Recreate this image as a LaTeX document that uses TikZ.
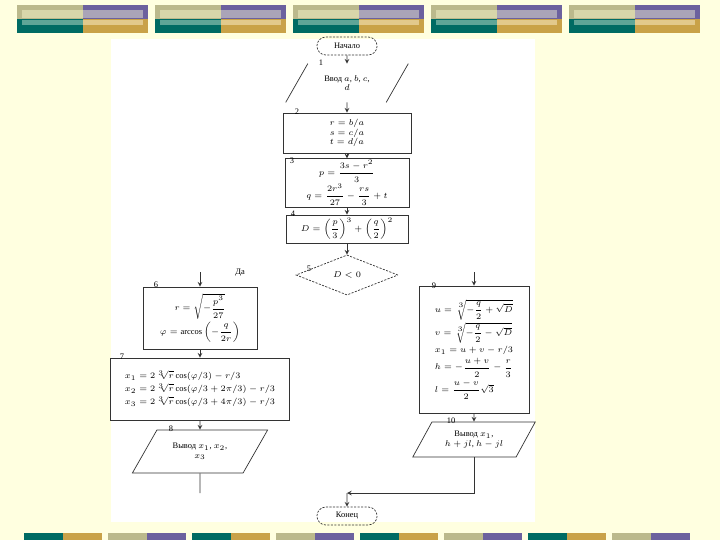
\documentclass[tikz,border=0pt]{standalone}
\usepackage{fontspec}
\setmainfont{Liberation Serif}
\usepackage{amsmath}
\usepackage{xcolor}
\usepackage{tikz}
\usetikzlibrary{shapes.geometric,shapes.misc}

\definecolor{bgyel}{HTML}{FFFFE0}
\definecolor{khaki}{HTML}{BBB98C}
\definecolor{khakil}{HTML}{D8D6AA}
\definecolor{purp}{HTML}{6C619E}
\definecolor{purpl}{HTML}{AAA4B8}
\definecolor{tealb}{HTML}{006B63}
\definecolor{teall}{HTML}{5FA597}
\definecolor{goldb}{HTML}{C9A248}
\definecolor{goldl}{HTML}{E2C98C}
\newcommand\flowfont{\fontsize{6}{6.8}\selectfont}
\newcommand\cbrt[1]{\sqrt[\leftroot{-1}\uproot{3}3]{#1}}
\newcommand\cbrtr{\;{}^{3}\!\!\sqrt{\vphantom{b}r}}

\begin{document}
\begin{tikzpicture}[
  x=0.025cm, y=-0.025cm,
  ln/.style={draw=black!80, line width=0.5pt},
  arr/.style={ln, -stealth},
  box/.style={draw=black!80, line width=0.5pt, font=\flowfont,
              align=center, inner sep=1pt},
  term/.style={box, rounded rectangle, dash pattern=on 1.5pt off 1pt,
               minimum width=1.575cm, minimum height=0.45cm},
  proc/.style={box, rectangle},
  io/.style={box, trapezium, trapezium stretches=true},
  dec/.style={box, diamond, dash pattern=on 1.5pt off 1pt},
  num/.style={font=\flowfont, inner sep=0pt},
]
% --- slide background ---
\fill[bgyel] (0,0) rectangle (720,540);
\useasboundingbox (0,0) rectangle (720,540);
\fill[white] (111,39) rectangle (535,522);
% --- top bars ---
\foreach \bx in {17,155,293,431,569} {
  \fill[khaki] (\bx,5) rectangle ++(66,14);
  \fill[purp] (\bx+66,5) rectangle ++(65,14);
  \fill[tealb] (\bx,19) rectangle ++(66,14);
  \fill[goldb] (\bx+66,19) rectangle ++(65,14);
  \fill[khakil] (\bx+5,10) rectangle ++(61,8);
  \fill[purpl] (\bx+66,10) rectangle ++(60,8);
  \fill[teall] (\bx+5,20) rectangle ++(61,5);
  \fill[goldl] (\bx+66,20) rectangle ++(60,5);
}
% --- bottom bars ---
\foreach \i/\ca/\cb in {0/tealb/goldb,1/khaki/purp,2/tealb/goldb,3/khaki/purp,
                        4/tealb/goldb,5/khaki/purp,6/tealb/goldb,7/khaki/purp} {
  \fill[\ca] (24+84*\i,533) rectangle ++(39,7);
  \fill[\cb] (63+84*\i,533) rectangle ++(39,7);
}
% --- main column ---
\node[term] (nach) at (347,46) {Начало};
\node[io, draw=none, trapezium left angle=53.6, trapezium right angle=126.4,
      minimum width=3.05cm, minimum height=0.95cm] (vvod) at (347,83)
      {Ввод $a$, $b$, $c$,\\ $d$};
\draw[ln] (vvod.bottom left corner) -- (vvod.top left corner);
\draw[ln] (vvod.bottom right corner) -- (vvod.top right corner);
\node[proc, minimum width=3.2cm, minimum height=1.0cm] (blk2) at (347,133)
      {$r=b/a$\\ $s=c/a$\\ $t=d/a$};
\node[proc, minimum width=3.1cm, minimum height=1.1cm] (blk3) at (347,183)
      {$p=\dfrac{3s-r^2}{3}$\\ $q=\dfrac{2r^3}{27}-\dfrac{rs}{3}+t$};
\node[proc, minimum width=3.05cm, minimum height=0.7cm] (blk4) at (347,229)
      {$D=\left(\dfrac{p}{3}\right)^{3}+\left(\dfrac{q}{2}\right)^{2}$};
\node[dec, minimum width=2.55cm, minimum height=0.875cm] (cond) at (347,275) {$D<0$};
\draw[arr] (nach) -- (vvod);
\draw[arr] (vvod) -- (blk2);
\draw[arr] (blk2) -- (blk3);
\draw[arr] (blk3) -- (blk4);
\draw[arr] (blk4) -- (cond);
% --- left branch ---
\coordinate (in6) at (200,272);
\node[proc, minimum width=2.85cm, minimum height=1.55cm] (blk6) at (200,318)
      {$r=\sqrt{-\dfrac{p^3}{27}}$\\[1pt] $\varphi=\arccos\left(-\dfrac{q}{2r}\right)$};
\node[proc, align=left, minimum width=4.475cm, minimum height=1.55cm] (blk7) at (200,389)
      {$x_1=2\cbrtr\cos(\varphi/3)-r/3$\\[1pt]
       $x_2=2\cbrtr\cos(\varphi/3+2\pi/3)-r/3$\\[1pt]
       $x_3=2\cbrtr\cos(\varphi/3+4\pi/3)-r/3$};
\node[io, trapezium left angle=50, trapezium right angle=130,
      minimum width=3.4cm, minimum height=1.075cm] (out8) at (200,451.5)
      {Вывод $x_1$, $x_2$,\\ $x_3$};
\coordinate (end8) at (200,493);
\draw[arr] (in6) -- (blk6);
\draw[arr] (blk6) -- (blk7);
\draw[arr] (blk7) -- (out8);
\draw[ln] (out8) -- (end8);
% --- right branch ---
\coordinate (in9) at (474,272);
\node[proc, align=left, minimum width=2.75cm, minimum height=3.175cm] (blk9) at (474,349.5)
      {$u=\cbrt{-\dfrac{q}{2}+\sqrt{D}}$\\[1pt]
       $v=\cbrt{-\dfrac{q}{2}-\sqrt{D}}$\\[1pt]
       $x_1=u+v-r/3$\\[1pt]
       $h=-\dfrac{u+v}{2}-\dfrac{r}{3}$\\[1pt]
       $l=\dfrac{u-v}{2}\sqrt{3}$};
\node[io, trapezium left angle=54.5, trapezium right angle=125.5,
      minimum width=3.075cm, minimum height=0.875cm] (out10) at (474,439.5)
      {Вывод $x_1$,\\ $h+jl$, $h-jl$};
\coordinate (join) at (347,493);
\node[term] (kon) at (347,516) {Конец};
\draw[arr] (in9) -- (blk9);
\draw[arr] (blk9) -- (out10);
\draw[arr] (out10) |- (join);
\draw[arr] (join) -- (kon);
% --- block numbers ---
\node[num] (lb1) at (321,63) {1};
\node[num] (lb2) at (297,112) {2};
\node[num] (lb3) at (292,161) {3};
\node[num] (lb4) at (293,214) {4};
\node[num] (lb5) at (309,269) {5};
\node[num] (lb6) at (156,285) {6};
\node[num] (lb7) at (122,357) {7};
\node[num] (lb8) at (171,429) {8};
\node[num] (lb9) at (434,286) {9};
\node[num] (lb10) at (451,421) {10};
\node[num] (yes) at (240,273) {Да};
\end{tikzpicture}
\end{document}
